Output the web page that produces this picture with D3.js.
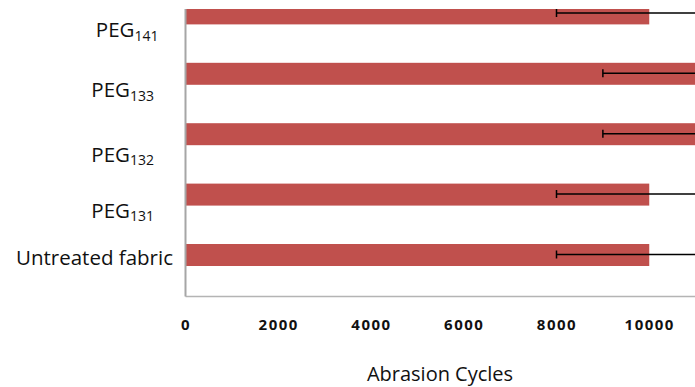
<!DOCTYPE html>
<html>
<head>
<meta charset="utf-8">
<script src="https://cdn.jsdelivr.net/npm/d3@7"></script>
<style>
  html, body { margin: 0; padding: 0; background: #fff; }
  svg { display: block; }
</style>
</head>
<body>
<script>
// Abrasion resistance of treated and untreated fabrics
const categories = ["Untreated fabric", "PEG131", "PEG132", "PEG133", "PEG141"];
const cycles     = [10000, 10000, 12000, 12000, 10000];
const errors     = [2000, 2000, 3000, 3000, 2000];
const xTicks     = [0, 2000, 4000, 6000, 8000, 10000];
const xTitle     = "Abrasion Cycles";

// hand-placed category captions: right edge and baseline offset from bar centre
const captionLayout = {
  "Untreated fabric": { right: 173, dy: 10 },
  "PEG131": { right: 154, dy: 23 },
  "PEG132": { right: 154, dy: 27.7 },
  "PEG133": { right: 154, dy: 23.2 },
  "PEG141": { right: 158.5, dy: 24 }
};

const W = 695, H = 387;
const plot = { left: 185.5, top: 9, bottom: 296.5 };

const svg = d3.select("body").append("svg")
  .attr("width", W).attr("height", H);
svg.append("rect").attr("width", W).attr("height", H).attr("fill", "#fff");

const x = d3.scaleLinear().domain([0, 12000]).range([plot.left, 742]);
const y = d3.scaleBand().domain(categories)
  .range([285.2, -16.8]).paddingInner(0.636).paddingOuter(0.318);

const rows = categories.map((c, i) => ({ c, v: cycles[i], e: errors[i] }));

svg.append("clipPath").attr("id", "plotClip")
  .append("rect").attr("x", plot.left).attr("y", plot.top)
  .attr("width", 742 - plot.left).attr("height", plot.bottom - plot.top);

const g = svg.append("g").attr("clip-path", "url(#plotClip)");

// bars
g.selectAll("rect.bar").data(rows).join("rect")
  .attr("class", "bar")
  .attr("x", x(0) + 0.5)
  .attr("y", d => y(d.c))
  .attr("width", d => x(d.v) - x(0) - 0.5)
  .attr("height", y.bandwidth())
  .attr("fill", "#c0504d");

// error bars
const eb = g.selectAll("g.err").data(rows).join("g").attr("class", "err")
  .attr("stroke", "#000").attr("stroke-width", 1.5);
const cy = d => y(d.c) + y.bandwidth() / 2 - 0.5;
eb.append("line")
  .attr("x1", d => x(d.v - d.e)).attr("x2", d => x(d.v + d.e))
  .attr("y1", cy).attr("y2", cy);
eb.append("line")
  .attr("x1", d => x(d.v - d.e)).attr("x2", d => x(d.v - d.e))
  .attr("y1", d => cy(d) - 4).attr("y2", d => cy(d) + 4);
eb.append("line")
  .attr("x1", d => x(d.v + d.e)).attr("x2", d => x(d.v + d.e))
  .attr("y1", d => cy(d) - 4).attr("y2", d => cy(d) + 4);

// plot frame: value axis baseline and lower border
svg.append("line")
  .attr("x1", plot.left).attr("x2", W)
  .attr("y1", plot.bottom).attr("y2", plot.bottom)
  .attr("stroke", "#b4b4b4").attr("stroke-width", 1.3);
svg.append("line")
  .attr("x1", plot.left).attr("x2", plot.left)
  .attr("y1", plot.top).attr("y2", plot.bottom)
  .attr("stroke", "#a6a6a6").attr("stroke-width", 2);

// x axis tick labels
const xAxis = d3.axisBottom(x).tickValues(xTicks).tickSize(0).tickPadding(0)
  .tickFormat(d3.format("d"));
const ax = svg.append("g").attr("transform", `translate(0,${plot.bottom})`).call(xAxis);
ax.select(".domain").remove();
ax.selectAll("text")
  .attr("dy", null).attr("y", 33.5)
  .attr("font-family", "'Open Sans', sans-serif")
  .attr("font-weight", 700).attr("font-size", 15)
  .attr("letter-spacing", "1.5px")
  .attr("fill", "#111");

// x axis title
svg.append("text")
  .attr("x", 440).attr("y", 380.5)
  .attr("text-anchor", "middle")
  .attr("font-family", "'Open Sans', sans-serif")
  .attr("font-size", 20).attr("fill", "#111")
  .text(xTitle);

// category captions with subscripted PEG numbers
categories.forEach(c => {
  const lay = captionLayout[c];
  const t = svg.append("text")
    .attr("x", lay.right)
    .attr("y", y(c) + y.bandwidth() / 2 + lay.dy)
    .attr("text-anchor", "end")
    .attr("font-family", "'Open Sans', sans-serif")
    .attr("font-size", 20.5).attr("fill", "#111");
  const m = c.match(/^([A-Za-z]+)(\d+)$/);
  if (m) {
    t.append("tspan").text(m[1]);
    t.append("tspan").attr("font-size", 14).attr("dy", 3.5).text(m[2]);
  } else {
    t.text(c);
  }
});
</script>
</body>
</html>
